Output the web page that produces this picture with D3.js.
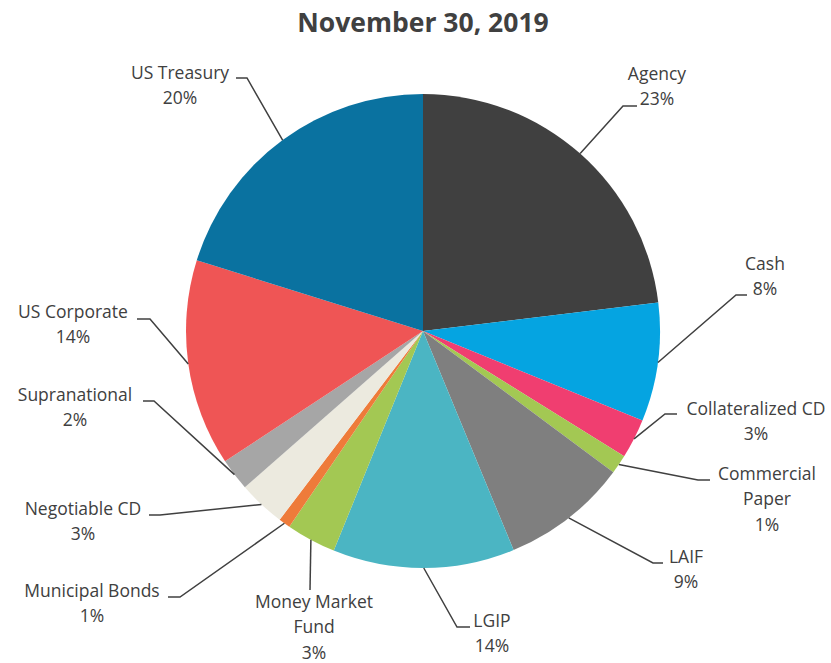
<!DOCTYPE html>
<html>
<head>
<meta charset="utf-8">
<script src="https://cdn.jsdelivr.net/npm/d3@7"></script>
<style>
  body { margin: 0; background: #fff; }
  svg text { font-family: "Open Sans", Lato, sans-serif; fill: #404040; }
</style>
</head>
<body>
<script>
// holdings, clockwise from 12 o'clock
var categories = ["Agency", "Cash", "Collateralized CD", "Commercial Paper", "LAIF", "LGIP",
  "Money Market Fund", "Municipal Bonds", "Negotiable CD", "Supranational", "US Corporate", "US Treasury"];
var values = [23.1, 8.1, 2.7, 1.3, 8.6, 12.4, 3.4, 0.8, 3.2, 2.2, 14.1, 20.2];
var pctLabels = ["23%", "8%", "3%", "1%", "9%", "14%", "3%", "1%", "3%", "2%", "14%", "20%"];
var colors = ["#404040", "#05a4e1", "#f03e70", "#a3c853", "#7f7f7f", "#4bb5c3",
  "#a3c853", "#ee7b3a", "#eceadf", "#a6a6a6", "#ef5555", "#0a72a0"];

// label text lines (name split as in the original)
var nameLines = [["Agency"], ["Cash"], ["Collateralized CD"], ["Commercial", "Paper"], ["LAIF"], ["LGIP"],
  ["Money Market", "Fund"], ["Municipal Bonds"], ["Negotiable CD"], ["Supranational"], ["US Corporate"], ["US Treasury"]];

// label placement: text centre x, first baseline y, elbow point, end of leader
var labelPos = [
  {x: 657, y: 80,  elbow: [623, 106], end: [637, 106]},
  {x: 765, y: 270, elbow: [736, 295], end: [747, 295]},
  {x: 756, y: 415, elbow: [665, 414], end: [677, 414]},
  {x: 767, y: 480, elbow: [698, 480], end: [710, 480]},
  {x: 686, y: 563, elbow: [653, 563], end: [663, 563]},
  {x: 492, y: 627, elbow: [457, 627], end: [470, 627]},
  {x: 314, y: 608, elbow: [310, 590], end: [310, 590]},
  {x: 92,  y: 597, elbow: [180, 597], end: [168, 597]},
  {x: 83,  y: 515, elbow: [160, 515], end: [149, 515]},
  {x: 75,  y: 401, elbow: [154, 401], end: [143, 401]},
  {x: 73,  y: 318, elbow: [150, 319], end: [137, 319]},
  {x: 180, y: 79,  elbow: [247, 78],  end: [236, 78]}
];

var width = 831, height = 663;
var cx = 423, cy = 331, radius = 237;
var lineH = 25.3;

var svg = d3.select("body").append("svg")
    .attr("width", width)
    .attr("height", height);

svg.append("text")
    .attr("x", cx)
    .attr("y", 32)
    .attr("text-anchor", "middle")
    .style("font-size", "26.5px")
    .style("font-weight", "bold")
    .text("November 30, 2019");

var pie = d3.pie().sort(null).value(function(d) { return d; });
var arcs = pie(values);

var arc = d3.arc().innerRadius(0).outerRadius(radius);

var g = svg.append("g")
    .attr("transform", "translate(" + cx + "," + cy + ")");

g.selectAll(".slice")
    .data(arcs)
    .enter().append("path")
    .attr("class", "slice")
    .attr("d", arc)
    .style("fill", function(d, i) { return colors[i]; });

// leader lines start on the rim at the slice mid angle
function rimPoint(d) {
  var a = (d.startAngle + d.endAngle) / 2;
  return [cx + radius * Math.sin(a), cy - radius * Math.cos(a)];
}

svg.selectAll(".leader")
    .data(arcs)
    .enter().append("polyline")
    .attr("class", "leader")
    .attr("points", function(d, i) {
      var p = rimPoint(d), L = labelPos[i];
      return [p, L.elbow, L.end].map(function(q) { return q.join(","); }).join(" ");
    })
    .style("fill", "none")
    .style("stroke", "#404040")
    .style("stroke-width", 1.5);

var labels = svg.selectAll(".label")
    .data(arcs)
    .enter().append("text")
    .attr("class", "label")
    .attr("text-anchor", "middle")
    .style("font-size", "17.5px");

labels.each(function(d, i) {
  var t = d3.select(this);
  var lines = nameLines[i].concat([pctLabels[i]]);
  lines.forEach(function(s, k) {
    t.append("tspan")
      .attr("x", labelPos[i].x)
      .attr("y", labelPos[i].y + k * lineH)
      .text(s);
  });
});
</script>
</body>
</html>
